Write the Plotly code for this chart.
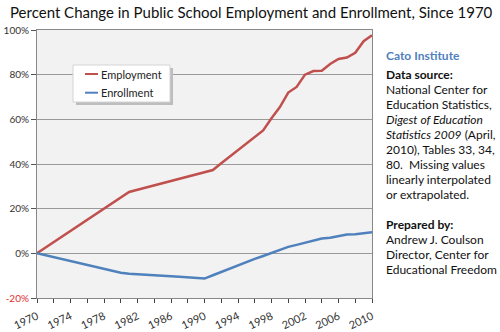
import plotly.graph_objects as go

years = list(range(1970, 2011))
employment = [0, 2.5, 5.0, 7.5, 10.0, 12.5, 15.0, 17.5, 20.0, 22.5,
              25.0, 27.5, 28.5, 29.5, 30.4, 31.4, 32.4, 33.4, 34.4, 35.4,
              36.3, 37.3, 40.3, 43.2, 46.2, 49.1, 52.1, 55.0, 60.5, 65.5,
              72.0, 74.5, 80.0, 81.6, 81.8, 84.8, 87.0, 87.7, 89.8, 95.0, 97.7]
enrollment = [0, -0.9, -1.7, -2.6, -3.5, -4.4, -5.2, -6.1, -7.0, -7.8,
              -8.7, -9.1, -9.4, -9.6, -9.8, -10.0, -10.3, -10.5, -10.7, -11.0,
              -11.3, -9.8, -8.3, -6.8, -5.3, -3.9, -2.5, -1.2, 0.1, 1.4,
              2.9, 3.8, 4.8, 5.8, 6.6, 7.0, 7.6, 8.4, 8.6, 9.0, 9.5]
series_names = ["Employment", "Enrollment"]
series_colors = ["#c0504d", "#4f81bd"]
y_ticks = [-20, 0, 20, 40, 60, 80, 100]
y_labels = ["<span style='color:#e03030'>-20%</span>", "0%", "20%", "40%", "60%", "80%", "100%"]
x_ticks = list(range(1970, 2011, 4))
x_labels = [str(v) for v in x_ticks]

title = "Percent Change in Public School Employment and Enrollment, Since 1970"
side_lines = [
    ("<b>Cato Institute</b>", "#4f81bd"),
    ("<b>Data source:</b>", "#111"),
    ("National Center for", "#111"),
    ("Education Statistics,", "#111"),
    ("<i>Digest of Education</i>", "#111"),
    ("<i>Statistics 2009</i> (April,", "#111"),
    ("2010), Tables 33, 34,", "#111"),
    ("80.  Missing values", "#111"),
    ("linearly interpolated", "#111"),
    ("or extrapolated.", "#111"),
    ("", "#111"),
    ("<b>Prepared by:</b>", "#111"),
    ("Andrew J. Coulson", "#111"),
    ("Director, Center for", "#111"),
    ("Educational Freedom", "#111"),
]
side_y = [55, 74.5, 89.5, 104.5, 119.5, 134.5, 149.5, 164.5, 179.5, 194.5, 209.5, 224.5, 239.5, 254.5, 269.5]

W, H = 500, 332
L, R, T, B = 37, 128, 30, 34
pw, ph = W - L - R, H - T - B

def px2paper_x(px):
    return (px - L) / pw

def px2paper_y(py):
    return (H - B - py) / ph

fig = go.Figure()
for name, vals, col in zip(series_names, [employment, enrollment], series_colors):
    fig.add_trace(go.Scatter(x=years, y=vals, mode="lines", name=name,
                             line=dict(color=col, width=2.5), showlegend=False))

font_family = "Lato, 'Noto Sans', sans-serif"

fig.update_layout(
    width=W, height=H,
    margin=dict(l=L, r=R, t=T, b=B, autoexpand=False),
    paper_bgcolor="white",
    plot_bgcolor="#f2f2f2",
    font=dict(family=font_family, size=10, color="#333"),
    showlegend=False,
    xaxis=dict(range=[1970, 2010], tickvals=x_ticks, ticktext=x_labels, tickangle=-25,
               showgrid=False, zeroline=False, showline=True, linecolor="#888", linewidth=1,
               ticks="outside", ticklen=4, tickcolor="#444", ticklabelstandoff=3, automargin=False,
               minor=dict(dtick=2, ticks="outside", ticklen=4, tickcolor="#444", showgrid=False),
               mirror=True, tickfont=dict(size=11, color="#333")),
    yaxis=dict(range=[-20, 100], tickvals=y_ticks, ticktext=y_labels, automargin=False,
               showgrid=True, gridcolor="#9a9a9a", gridwidth=1, zeroline=False,
               showline=True, linecolor="#888", linewidth=1, mirror=True,
               ticks="outside", ticklen=5, tickcolor="#555",
               tickfont=dict(size=10, color="#333")),
)

fig.add_annotation(text=title, xref="paper", yref="paper",
                   x=px2paper_x(251), y=px2paper_y(12), xanchor="center", yanchor="middle",
                   showarrow=False, font=dict(size=15, color="#111", family=font_family))

# manual legend box (shadow + box), entries
lx0, lx1, ly0, ly1 = 73, 170, 65, 102
fig.add_shape(type="rect", xref="paper", yref="paper",
              x0=px2paper_x(lx0 + 3), x1=px2paper_x(lx1 + 3), y0=px2paper_y(ly1 + 3), y1=px2paper_y(ly0 + 3),
              fillcolor="#bdbdbd", line=dict(width=0), layer="above")
fig.add_shape(type="rect", xref="paper", yref="paper",
              x0=px2paper_x(lx0), x1=px2paper_x(lx1), y0=px2paper_y(ly1), y1=px2paper_y(ly0),
              fillcolor="white", line=dict(width=1, color="#d4d4d4"), layer="above")
for i, (name, col) in enumerate(zip(series_names, series_colors)):
    yy = 74 + i * 18.7
    fig.add_shape(type="line", xref="paper", yref="paper",
                  x0=px2paper_x(85), x1=px2paper_x(98), y0=px2paper_y(yy), y1=px2paper_y(yy),
                  line=dict(color=col, width=2), layer="above")
    fig.add_annotation(text=name, xref="paper", yref="paper",
                       x=px2paper_x(98.5), y=px2paper_y(yy), xanchor="left", yanchor="middle",
                       showarrow=False, font=dict(size=11, color="#222", family=font_family))

for (txt, col), yy in zip(side_lines, side_y):
    if not txt:
        continue
    fig.add_annotation(text=txt, xref="paper", yref="paper",
                       x=px2paper_x(384), y=px2paper_y(yy), xanchor="left", yanchor="middle",
                       showarrow=False, font=dict(size=12, color=col, family=font_family))

fig.write_html("out.html")
